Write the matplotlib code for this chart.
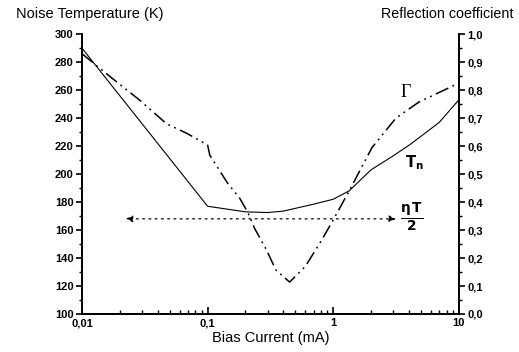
import numpy as np
import matplotlib.pyplot as plt
from matplotlib.ticker import FixedLocator, FuncFormatter, MultipleLocator, LogLocator, NullFormatter

plt.rcParams['font.family'] = ['Liberation Sans', 'DejaVu Sans']
plt.rcParams['mathtext.fontset'] = 'dejavusans'

# noise temperature (K) vs bias current (mA)
tn_current = [0.01, 0.1, 0.2, 0.3, 0.4, 0.5, 0.7, 1.0, 1.34, 2.0, 3.0, 4.0, 5.0, 7.0, 10.0]
tn_kelvin = [290, 177, 173, 172.5, 173.5, 175.5, 178.5, 182, 188, 203, 213, 220.5, 227, 237, 253]

# reflection coefficient vs bias current (mA)
gamma_current = [0.01, 0.0173, 0.0288, 0.047, 0.068, 0.1, 0.104, 0.144, 0.18, 0.208, 0.236,
                 0.294, 0.35, 0.45, 0.6, 0.8, 1.0, 1.34, 2.04, 3.16, 4.8, 10.0]
gamma_coef = [0.93, 0.843, 0.764, 0.68, 0.646, 0.604, 0.568, 0.468, 0.414, 0.365, 0.307,
              0.229, 0.157, 0.114, 0.17, 0.26, 0.336, 0.44, 0.595, 0.70, 0.757, 0.825]

# dotted arrow level (K) and its extent (mA)
arrow_level = 168
arrow_span = [0.0223, 3.16]

fig = plt.figure(figsize=(5.19, 3.52), dpi=100)
ax = fig.add_axes([0.158, 0.108, 0.726, 0.795])
ax2 = ax.twinx()

ax.plot(tn_current, tn_kelvin, color='black', lw=0.8)
ax2.plot(gamma_current, gamma_coef, color='black', lw=1.1, dashes=(9, 3, 1.2, 3, 1.2, 3))

ax.annotate('', xy=(arrow_span[0], arrow_level), xytext=(arrow_span[1], arrow_level),
            arrowprops=dict(arrowstyle='<|-|>', color='black', lw=0.9, ls=(0, (1.5, 3.5)),
                            mutation_scale=10, shrinkA=0, shrinkB=0))

ax.set_xscale('log')
ax.set_xlim(0.01, 10)
ax.set_ylim(100, 300)
ax2.set_ylim(0, 1.0)

ax.yaxis.set_major_locator(MultipleLocator(20))
ax.yaxis.set_minor_locator(MultipleLocator(10))
ax2.yaxis.set_major_locator(MultipleLocator(0.1))
ax2.yaxis.set_minor_locator(MultipleLocator(0.05))
ax2.yaxis.set_major_formatter(FuncFormatter(lambda v, p: ('%.1f' % v).replace('.', ',')))
ax.xaxis.set_major_locator(FixedLocator([0.01, 0.1, 1, 10]))
ax.xaxis.set_major_formatter(FuncFormatter(lambda v, p: {0.01: '0,01', 0.1: '0,1', 1: '1', 10: '10'}.get(round(v, 3), '')))
ax.xaxis.set_minor_locator(LogLocator(base=10, subs=np.arange(2, 10)))
ax.xaxis.set_minor_formatter(NullFormatter())

for a in (ax, ax2):
    a.spines['top'].set_visible(False)
    for s in a.spines.values():
        s.set_linewidth(1.3)

ax.tick_params(axis='y', which='major', direction='out', length=4, width=1.2, labelsize=8, pad=2)
ax.tick_params(axis='y', which='minor', direction='out', length=2.5, width=1)
ax2.tick_params(axis='y', which='major', direction='out', length=4, width=1.2, labelsize=8, pad=2)
ax2.tick_params(axis='y', which='minor', direction='out', length=2.5, width=1)
ax.tick_params(axis='x', which='major', direction='in', length=5, width=1.2, labelsize=8, pad=3)
ax.tick_params(axis='x', which='minor', direction='in', length=3, width=1)

for lab in ax.get_yticklabels() + ax2.get_yticklabels() + ax.get_xticklabels():
    lab.set_fontweight('bold')

ax.set_xlabel('Bias Current (mA)', fontsize=10.5, labelpad=2)
fig.text(0.03, 0.96, 'Noise Temperature (K)', fontsize=10.5, va='center', ha='left')
fig.text(0.99, 0.96, 'Reflection coefficient', fontsize=10.3, va='center', ha='right')

ax.text(3.8, 258, 'Γ', fontsize=13, ha='center', va='center', family=['Liberation Serif', 'DejaVu Serif'])
ax.text(4.4, 208.5, r'$\mathbf{T_n}$', fontsize=10.5, ha='center', va='center')
ax.text(4.2, 169.3, r'$\mathbf{\frac{\eta\,T}{2}}$', fontsize=14, ha='center', va='center')

fig.savefig('out.png', dpi=100)
